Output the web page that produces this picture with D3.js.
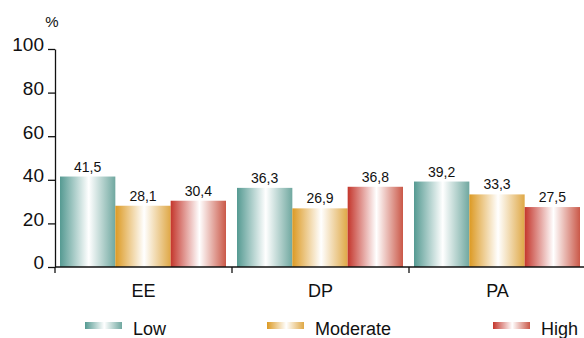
<!DOCTYPE html>
<html>
<head>
<meta charset="utf-8">
<script src="https://cdn.jsdelivr.net/npm/d3@7"></script>
<style>
  body { margin: 0; background: #fff; }
  text { font-family: "Liberation Sans", Arial, sans-serif; fill: #111; }
</style>
</head>
<body>
<div id="chart"></div>
<script>
// data
const categories = ['EE', 'DP', 'PA'];
const levels = ['Low', 'Moderate', 'High'];
const lowValues = [41.5, 36.3, 39.2];
const moderateValues = [28.1, 26.9, 33.3];
const highValues = [30.4, 36.8, 27.5];
const yTicks = [0, 20, 40, 60, 80, 100];

const seriesValues = [lowValues, moderateValues, highValues];
const colours = [
    { left: '#559a92', right: '#70a8a0' },
    { left: '#dc9a24', right: '#dfa846' },
    { left: '#c4362c', right: '#ca5848' }
];

const width = 584, height = 338;
const margin = { top: 49, right: 0, bottom: 71, left: 55 };
const innerW = 531, innerH = height - margin.top - margin.bottom;

const svg = d3.select('#chart')
    .append('svg')
    .attr('width', width)
    .attr('height', height);

// gradients
const defs = svg.append('defs');
levels.forEach((l, i) => {
    const g = defs.append('linearGradient')
        .attr('id', 'grad' + i)
        .attr('x1', '0%').attr('x2', '100%').attr('y1', '0%').attr('y2', '0%');
    g.append('stop').attr('offset', '0%').attr('stop-color', colours[i].left);
    g.append('stop').attr('offset', '52%').attr('stop-color', '#ffffff');
    g.append('stop').attr('offset', '100%').attr('stop-color', colours[i].right);
});

const x = d3.scaleBand()
    .domain(categories)
    .range([margin.left, margin.left + innerW]);

const xInner = d3.scaleBand()
    .domain(levels)
    .range([5, x.bandwidth() - 6]);

const y = d3.scaleLinear()
    .domain([0, 100])
    .range([margin.top + innerH, margin.top]);

// bars
const groups = svg.append('g').selectAll('.group')
    .data(categories)
    .join('g')
    .attr('class', 'group')
    .attr('transform', d => `translate(${x(d)},0)`);

groups.selectAll('rect')
    .data((c, ci) => levels.map((l, li) => ({ level: l, li: li, value: seriesValues[li][ci] })))
    .join('rect')
    .attr('x', d => xInner(d.level))
    .attr('width', xInner.bandwidth())
    .attr('y', d => y(d.value))
    .attr('height', d => y(0) - y(d.value))
    .attr('fill', d => `url(#grad${d.li})`);

groups.selectAll('.bar-label')
    .data((c, ci) => levels.map((l, li) => ({ level: l, value: seriesValues[li][ci] })))
    .join('text')
    .attr('class', 'bar-label')
    .attr('x', d => xInner(d.level) + xInner.bandwidth() / 2)
    .attr('y', d => y(d.value) - 5)
    .attr('text-anchor', 'middle')
    .style('font-size', '14px')
    .text(d => d.value.toFixed(1).replace('.', ','));

// y axis
const yAxis = svg.append('g')
    .attr('transform', `translate(${margin.left},0)`)
    .call(d3.axisLeft(y).tickValues(yTicks).tickSize(7).tickSizeOuter(0));
yAxis.select('.domain').attr('stroke', '#111').attr('stroke-width', 1.3);
yAxis.selectAll('.tick line').attr('stroke', '#111').attr('stroke-width', 1.3);
yAxis.selectAll('.tick text')
    .attr('x', -11)
    .attr('dy', '0.1em')
    .style('font-size', '19px')
    .style('font-family', '"Liberation Sans", Arial, sans-serif');

svg.append('text')
    .attr('x', 52)
    .attr('y', 27)
    .attr('text-anchor', 'middle')
    .style('font-size', '15px')
    .text('%');

// x axis
const xAxisY = y(0);
const xAxis = svg.append('g');
xAxis.append('line')
    .attr('x1', margin.left).attr('x2', margin.left + innerW)
    .attr('y1', xAxisY).attr('y2', xAxisY)
    .attr('stroke', '#111').attr('stroke-width', 1.3);
xAxis.selectAll('.xtick')
    .data(categories.concat(['end']))
    .join('line')
    .attr('class', 'xtick')
    .attr('x1', (d, i) => i < categories.length ? x(d) : x.range()[1] - 1)
    .attr('x2', (d, i) => i < categories.length ? x(d) : x.range()[1] - 1)
    .attr('y1', xAxisY).attr('y2', xAxisY + 6)
    .attr('stroke', '#111').attr('stroke-width', 1.3);
xAxis.selectAll('.cat-label')
    .data(categories)
    .join('text')
    .attr('class', 'cat-label')
    .attr('x', d => x(d) + x.bandwidth() / 2)
    .attr('y', xAxisY + 30)
    .attr('text-anchor', 'middle')
    .style('font-size', '18px')
    .text(d => d);

// legend
const legendX = d3.scaleOrdinal()
    .domain(levels)
    .range([85, 267, 493]);

const legend = svg.append('g').selectAll('.legend')
    .data(levels)
    .join('g')
    .attr('class', 'legend')
    .attr('transform', d => `translate(${legendX(d)},322)`);

legend.append('rect')
    .attr('width', 37)
    .attr('height', 7)
    .attr('fill', (d, i) => `url(#grad${i})`);

legend.append('text')
    .attr('x', 48)
    .attr('y', 13)
    .style('font-size', '18px')
    .text(d => d);
</script>
</body>
</html>
